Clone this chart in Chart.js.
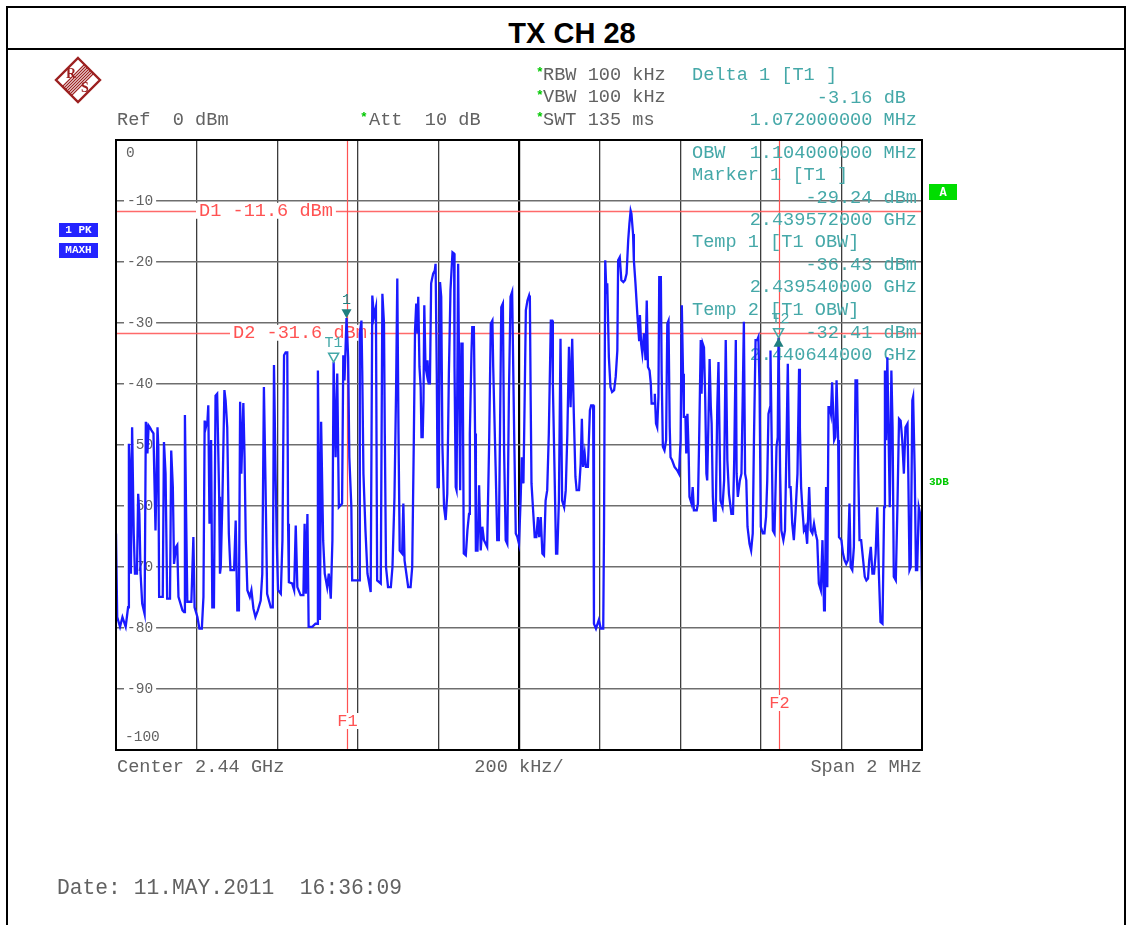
<!DOCTYPE html>
<html>
<head>
<meta charset="utf-8">
<title>TX CH 28</title>
<script src="https://cdn.jsdelivr.net/npm/chart.js@4.4.1/dist/chart.umd.min.js"></script>
<style>
    html, body { margin: 0; padding: 0; background: #fff; }
    body { width: 1131px; height: 925px; overflow: hidden; position: relative; }
    #frame { position: absolute; left: 6px; top: 6px; width: 1116px; height: 940px; border: 2px solid #000; }
    #title { height: 40px; border-bottom: 2px solid #000; text-align: center; font: bold 29px "Liberation Sans", Arial, sans-serif; line-height: 50px; padding-left: 12px; }
    #chartArea { position: absolute; left: 0; top: 0; }
</style>
</head>
<body>
<div id="frame"><div id="title">TX CH 28</div></div>
<canvas id="chartArea" width="1131" height="925"></canvas>
<script>
// trace: [offset from start frequency in kHz, level in dBm]
var lowerBandPts = [[0,-64.5],[3,-78.2],[10,-79.8],[16,-78.2],[24,-79.8],[30,-76.6],[32,-49.8],[35,-54.7],[37,-71.1],[40,-47.1],[44,-64.5],[47,-71.1],[52,-71.1],[55,-58.0],[58,-61.3],[61,-71.1],[65,-76.0],[71,-77.7],[74,-46.2],[76,-47.1],[78,-51.4],[81,-46.8],[84,-47.1],[88,-47.6],[93,-48.1],[95,-54.7],[98,-64.0],[103,-47.1],[105,-50.3],[107,-74.9],[116,-74.9],[119,-49.5],[123,-54.7],[127,-75.2],[134,-75.2],[137,-50.9],[141,-56.9],[144,-69.5],[149,-66.7],[152,-66.4],[155,-74.9],[165,-77.1],[169,-77.4],[171,-45.1],[174,-61.3],[177,-75.7],[187,-75.7],[192,-65.1],[195,-76.6],[202,-78.2],[207,-80.1],[213,-80.1],[217,-74.9],[220,-46.0],[223,-47.1],[227,-46.0],[229,-43.5],[232,-62.9],[236,-49.2],[239,-76.6],[243,-76.6],[247,-41.9],[251,-41.6],[256,-58.5],[258,-71.1],[260,-70.0],[264,-59.1],[269,-41.0],[272,-42.7],[276,-47.1],[280,-64.5],[284,-70.5],[293,-70.5],[297,-62.4],[301,-77.1],[305,-77.1],[308,-42.9],[311,-54.7],[316,-43.1],[319,-52.0],[322,-65.6],[326,-73.8],[332,-74.9],[336,-73.8],[341,-76.8],[346,-78.2],[352,-77.1],[359,-75.5],[363,-71.1],[367,-40.5],[371,-56.3],[375,-74.4],[384,-76.6],[389,-76.6],[392,-36.9],[396,-54.7],[399,-66.2],[402,-73.8],[409,-74.4],[413,-65.6],[417,-35.3],[421,-34.8],[425,-34.8],[427,-62.9],[429,-72.5],[437,-72.7],[442,-73.8],[446,-63.2],[450,-73.3],[458,-74.6],[465,-74.6],[468,-62.9],[471,-74.4],[475,-61.3],[478,-79.8],[487,-79.8],[495,-79.3],[499,-79.3],[501,-37.8],[504,-60.2],[506,-78.7],[509,-46.2],[514,-65.6],[518,-71.1],[524,-73.3],[528,-71.1],[533,-75.2],[537,-65.6],[540,-36.4],[545,-52.0],[549,-38.3],[553,-60.2],[561,-59.6],[564,-35.3],[567,-39.4],[572,-29.2],[576,-35.6],[579,-52.0],[584,-60.2],[586,-72.2],[603,-72.2],[605,-31.7],[609,-29.6],[611,-37.8],[614,-54.7],[619,-64.0],[624,-71.1],[632,-74.1],[636,-25.5],[640,-29.0],[645,-27.4],[648,-72.2],[657,-72.7],[661,-25.2],[665,-30.1]];
var centerPts = [[667,-48.1],[670,-70.0],[675,-73.3],[682,-73.3],[686,-70.0],[691,-58.5],[695,-41.0],[698,-22.7],[701,-48.1],[704,-67.3],[710,-67.8],[713,-59.6],[716,-68.9],[725,-73.3],[731,-73.3],[735,-70.0],[739,-49.2],[742,-31.2],[745,-26.8],[748,-31.7],[750,-25.7],[753,-37.2],[756,-40.5],[758,-48.7],[761,-48.7],[763,-42.7],[765,-27.1],[768,-37.2],[771,-38.3],[773,-36.1],[776,-39.9],[779,-39.9],[782,-23.5],[787,-21.9],[791,-21.4],[793,-20.3],[796,-38.3],[798,-56.9],[801,-56.9],[804,-23.3],[807,-25.7],[810,-50.3],[814,-60.2],[818,-62.3],[822,-58.0],[826,-38.3],[830,-24.6],[835,-18.4],[839,-18.6],[840,-37.2],[843,-56.9],[845,-57.4],[849,-20.3],[852,-42.7],[854,-57.4],[857,-33.4],[860,-33.4],[863,-67.8],[868,-68.1],[872,-64.0],[876,-61.3],[878,-48.1],[882,-35.0],[884,-30.7],[888,-30.7],[891,-48.1],[893,-67.3],[897,-67.3],[901,-56.6],[905,-67.3],[909,-63.4],[913,-65.6],[921,-66.7],[926,-49.2],[930,-30.1],[934,-29.6],[936,-37.2],[942,-53.6],[946,-65.6],[950,-65.6],[953,-47.0],[956,-27.4],[960,-26.8],[963,-50.9],[967,-65.6],[971,-66.2],[975,-41.6],[979,-25.7],[983,-24.9],[985,-24.9],[988,-48.1],[992,-64.5],[996,-65.1],[1000,-66.2],[1004,-59.1],[1007,-52.0],[1011,-56.3],[1014,-42.7],[1017,-27.9],[1021,-26.3],[1025,-25.5],[1027,-26.3],[1029,-42.7],[1031,-56.3],[1036,-61.8],[1039,-65.1],[1043,-65.1],[1047,-61.8],[1050,-65.1],[1054,-61.8],[1058,-67.8],[1062,-68.1],[1066,-59.1],[1070,-57.4],[1074,-48.1],[1079,-29.6],[1082,-29.6],[1084,-39.9],[1088,-53.6],[1092,-67.8],[1095,-67.8],[1099,-59.1],[1103,-32.6],[1107,-59.1],[1112,-60.2],[1116,-57.4],[1120,-48.1],[1124,-33.9],[1128,-43.8],[1132,-32.6],[1136,-44.9],[1140,-55.2],[1143,-57.4],[1149,-57.4],[1153,-53.1],[1156,-45.7],[1159,-53.6],[1163,-51.4],[1166,-53.6],[1171,-53.6],[1176,-44.3],[1179,-43.5],[1184,-43.5],[1186,-79.3],[1191,-80.1],[1195,-79.3],[1198,-78.7],[1203,-80.1],[1209,-80.1],[1211,-63.4],[1214,-19.7],[1217,-25.2],[1219,-23.5],[1223,-35.6],[1227,-40.5],[1231,-41.3],[1236,-41.0],[1240,-38.8],[1244,-34.5],[1246,-19.7],[1250,-19.2],[1254,-23.0],[1259,-23.3],[1263,-23.0],[1267,-21.9],[1271,-16.4],[1274,-13.7],[1277,-11.6],[1279,-12.1],[1283,-15.4],[1285,-19.7],[1289,-23.5],[1294,-29.0],[1298,-32.8],[1300,-28.7],[1303,-33.4],[1306,-35.0],[1310,-31.7],[1314,-36.1],[1317,-26.3],[1320,-37.2],[1324,-37.8],[1327,-39.9],[1329,-43.2],[1335,-43.2]];
var upperBandPts = [[1337,-41.6],[1340,-46.5],[1343,-47.1],[1346,-42.1],[1348,-22.5],[1352,-22.5],[1354,-38.3],[1357,-50.3],[1361,-50.9],[1365,-49.2],[1368,-30.1],[1371,-29.6],[1374,-47.1],[1376,-52.0],[1380,-52.5],[1386,-53.6],[1393,-54.2],[1397,-54.7],[1401,-49.2],[1404,-27.1],[1407,-38.3],[1409,-45.4],[1413,-45.4],[1415,-51.4],[1418,-44.9],[1421,-51.4],[1423,-58.5],[1428,-59.6],[1431,-56.9],[1434,-60.7],[1441,-60.7],[1444,-59.6],[1447,-49.2],[1451,-32.8],[1453,-41.6],[1456,-33.4],[1459,-34.0],[1462,-42.1],[1465,-54.7],[1467,-55.8],[1470,-46.5],[1473,-35.9],[1476,-43.8],[1478,-46.5],[1481,-58.5],[1484,-62.4],[1488,-62.4],[1492,-43.8],[1495,-36.4],[1498,-50.3],[1500,-59.1],[1505,-60.2],[1509,-55.8],[1513,-32.8],[1517,-52.5],[1521,-58.0],[1527,-61.3],[1531,-61.3],[1534,-52.5],[1538,-32.8],[1540,-54.7],[1543,-58.5],[1548,-55.8],[1552,-54.7],[1555,-42.7],[1558,-29.8],[1561,-54.7],[1564,-55.8],[1567,-63.4],[1572,-66.2],[1576,-67.3],[1580,-64.5],[1583,-49.2],[1587,-32.8],[1591,-32.8],[1594,-32.3],[1597,-41.0],[1600,-63.4],[1605,-64.5],[1609,-64.5],[1613,-61.8],[1616,-55.8],[1619,-44.9],[1623,-43.8],[1624,-34.5],[1627,-49.2],[1630,-64.0],[1634,-64.5],[1639,-50.3],[1642,-48.7],[1644,-32.4],[1648,-54.7],[1651,-64.0],[1656,-65.6],[1660,-64.0],[1664,-49.2],[1667,-36.7],[1671,-56.9],[1674,-56.9],[1678,-62.9],[1682,-65.6],[1686,-61.3],[1691,-54.7],[1695,-37.5],[1697,-47.1],[1700,-56.9],[1703,-60.2],[1707,-64.0],[1711,-63.4],[1715,-66.2],[1720,-56.9],[1724,-64.0],[1728,-64.5],[1732,-62.9],[1736,-64.5],[1740,-65.6],[1744,-72.7],[1749,-73.8],[1753,-65.6],[1757,-77.1],[1759,-76.6],[1762,-56.9],[1765,-73.3],[1768,-43.8],[1771,-43.8],[1774,-44.9],[1777,-39.7],[1782,-49.2],[1785,-48.7],[1788,-39.4],[1792,-49.2],[1794,-65.1],[1800,-65.6],[1804,-67.8],[1808,-68.9],[1812,-69.5],[1816,-68.9],[1820,-59.6],[1823,-70.0],[1827,-70.5],[1831,-66.7],[1835,-39.4],[1839,-39.4],[1842,-54.7],[1845,-65.6],[1849,-65.6],[1854,-68.9],[1858,-71.6],[1862,-72.2],[1866,-71.9],[1869,-68.9],[1873,-66.7],[1877,-71.1],[1881,-71.1],[1885,-67.8],[1889,-60.2],[1893,-71.1],[1897,-79.0],[1902,-79.3],[1906,-60.2],[1908,-37.8],[1911,-49.2],[1914,-35.6],[1918,-52.0],[1920,-60.2],[1924,-37.8],[1927,-47.1],[1930,-71.6],[1935,-72.2],[1939,-60.2],[1943,-45.7],[1947,-46.0],[1951,-49.2],[1955,-54.7],[1959,-47.1],[1964,-46.5],[1966,-54.7],[1969,-70.5],[1972,-70.0],[1976,-42.7],[1978,-42.1],[1982,-54.7],[1985,-70.5],[1988,-70.5],[1992,-60.2],[1997,-61.8],[2000,-73.8]];

var centerGHz = 2.44;
var spanKHz = 2000;
var divKHz = 200;
var refLevel = 0;
var bottomLevel = -100;
var dbPerDiv = 10;
var levelTicks = [-10, -20, -30, -40, -50, -60, -70, -80, -90];

var displayLineNames = ['D1', 'D2'];
var displayLineLevels = [-11.6, -31.6];
var freqLineNames = ['F1', 'F2'];
var freqLineGHz = [2.439572, 2.440644];
var markerNames = ['1', 'T1', 'T2'];
var markerTitles = ['Marker 1 [T1 ]', 'Temp 1 [T1 OBW]', 'Temp 2 [T1 OBW]'];
var markerGHz = [2.439572, 2.439540, 2.440644];
var markerLevels = [-29.24, -36.43, -32.41];
var deltaTexts = ['Delta 1 [T1 ]', '-3.16 dB', '1.072000000 MHz'];
var obwText = '1.104000000 MHz';
var setupTexts = ['RBW 100 kHz', 'VBW 100 kHz', 'SWT 135 ms'];

var MONO = '"Liberation Mono", "DejaVu Sans Mono", monospace';
var F_MAIN = '18.6px ' + MONO;
var GRAY = '#626262';
var TEAL = '#45a8a8';
var DTEAL = '#1f7f7f';
var RED = '#ff5252';
var GREEN = '#00c800';

function toKHz(ghz) {
    return (ghz - centerGHz) * 1e6 + spanKHz / 2;
}

function put(c, s, x, y, color, font, align) {
    c.font = font;
    c.fillStyle = color;
    c.textAlign = align || 'left';
    c.textBaseline = 'middle';
    c.fillText(s, x, y);
}

function boxedText(c, s, x, y, color, font, align) {
    c.font = font;
    var w = c.measureText(s).width;
    var x0 = align === 'center' ? x - w / 2 : x;
    c.fillStyle = '#fff';
    c.fillRect(x0 - 3, y - 8, w + 6, 16);
    put(c, s, x0, y, color, font, 'left');
}

function tri(c, x, y, dir, filled, color) {
    // dir 1 = pointing down with its tip at y, dir -1 = pointing up
    c.beginPath();
    c.moveTo(x, y);
    c.lineTo(x - 5, y - 9 * dir);
    c.lineTo(x + 5, y - 9 * dir);
    c.closePath();
    if (filled) {
        c.fillStyle = color;
        c.fill();
    } else {
        c.strokeStyle = color;
        c.lineWidth = 1.5;
        c.stroke();
    }
}

function star(c, x, y) {
    put(c, '*', x, y - 2, GREEN, 'bold 13px ' + MONO);
}

function drawLogo(c, cx, cy, r) {
    c.save();
    c.translate(cx, cy);
    c.strokeStyle = '#9c2020';
    c.lineWidth = 2.4;
    c.beginPath();
    c.moveTo(0, -r); c.lineTo(r, 0); c.lineTo(0, r); c.lineTo(-r, 0);
    c.closePath();
    c.stroke();
    c.lineWidth = 1.1;
    for (var k = -3; k <= 3; k++) {
        var o = k * 1.5;
        c.beginPath();
        c.moveTo(o + r / 2, o - r / 2);
        c.lineTo(o - r / 2, o + r / 2);
        c.stroke();
    }
    put(c, 'R', -7, -6, '#9c2020', 'bold 14px "Liberation Serif", serif', 'center');
    put(c, 'S', 7, 8, '#9c2020', 'bold 14px "Liberation Serif", serif', 'center');
    c.restore();
}

var spectrumDecor = {
    id: 'spectrumDecor',
    beforeDatasetsDraw: function (chart) {
        var c = chart.ctx, a = chart.chartArea, xs = chart.scales.x, ys = chart.scales.y;
        var i, y, x;
        c.save();
        // level labels sit on the grid lines
        var F_LVL = '14.5px ' + MONO;
        put(c, String(refLevel), a.left + 10, a.top + 13, GRAY, F_LVL);
        for (i = 0; i < levelTicks.length; i++) {
            boxedText(c, String(levelTicks[i]), a.left + 11, ys.getPixelForValue(levelTicks[i]), GRAY, F_LVL);
        }
        put(c, String(bottomLevel), a.left + 9, a.bottom - 13, GRAY, F_LVL);

        // display lines D1 / D2
        c.strokeStyle = 'rgba(255,90,90,0.9)';
        c.lineWidth = 1.6;
        for (i = 0; i < displayLineLevels.length; i++) {
            y = Math.round(ys.getPixelForValue(displayLineLevels[i])) + 0.5;
            c.beginPath(); c.moveTo(a.left, y); c.lineTo(a.right, y); c.stroke();
        }
        boxedText(c, displayLineNames[0] + ' ' + displayLineLevels[0].toFixed(1) + ' dBm', a.left + 83,
            ys.getPixelForValue(displayLineLevels[0]), RED, F_MAIN);
        boxedText(c, displayLineNames[1] + ' ' + displayLineLevels[1].toFixed(1) + ' dBm', a.left + 117,
            ys.getPixelForValue(displayLineLevels[1]), RED, F_MAIN);

        // frequency lines F1 / F2
        c.strokeStyle = RED;
        c.lineWidth = 1.2;
        var fLabelY = [a.bottom - 29, a.bottom - 47];
        for (i = 0; i < freqLineGHz.length; i++) {
            x = Math.round(xs.getPixelForValue(toKHz(freqLineGHz[i]))) + 0.5;
            c.beginPath(); c.moveTo(x, a.top); c.lineTo(x, a.bottom); c.stroke();
            boxedText(c, freqLineNames[i], x, fLabelY[i], RED, '17px ' + MONO, 'center');
        }

        // marker readout inside the screen
        var rx = a.right - 5, lx = a.left + 576;
        put(c, 'OBW', lx, a.top + 13, TEAL, F_MAIN);
        put(c, obwText, rx, a.top + 13, TEAL, F_MAIN, 'right');
        for (i = 0; i < markerTitles.length; i++) {
            var top = a.top + 35 + i * 67.5;
            put(c, markerTitles[i], lx, top, TEAL, F_MAIN);
            put(c, markerLevels[i].toFixed(2) + ' dBm', rx, top + 23, TEAL, F_MAIN, 'right');
            put(c, markerGHz[i].toFixed(9) + ' GHz', rx, top + 45, TEAL, F_MAIN, 'right');
        }
        c.restore();
    },
    afterDatasetsDraw: function (chart) {
        var c = chart.ctx, a = chart.chartArea, xs = chart.scales.x, ys = chart.scales.y;
        c.save();
        var px = [], py = [];
        for (var i = 0; i < markerGHz.length; i++) {
            px.push(xs.getPixelForValue(toKHz(markerGHz[i])));
            py.push(ys.getPixelForValue(markerLevels[i]));
        }
        var F_MK = '15px ' + MONO;
        tri(c, px[0], py[0], 1, true, DTEAL);
        put(c, markerNames[0], px[0], py[0] - 18, DTEAL, F_MK, 'center');
        tri(c, px[1], py[1], 1, false, TEAL);
        put(c, markerNames[1], px[1], py[1] - 19, TEAL, F_MK, 'center');
        tri(c, px[2], py[2], 1, false, TEAL);
        tri(c, px[2], py[2], -1, true, DTEAL);
        put(c, markerNames[2], px[2] + 2, py[2] - 19, TEAL, F_MK, 'center');

        c.strokeStyle = '#000';
        c.lineWidth = 2;
        c.strokeRect(a.left, a.top, a.right - a.left, a.bottom - a.top);
        c.restore();
    },
    afterDraw: function (chart) {
        var c = chart.ctx, a = chart.chartArea;
        c.save();
        drawLogo(c, 78, 80, 22);

        put(c, 'Ref  ' + refLevel + ' dBm', a.left + 1, 120, GRAY, F_MAIN);
        star(c, 360, 120);
        put(c, 'Att  10 dB', 369, 120, GRAY, F_MAIN);
        for (var i = 0; i < setupTexts.length; i++) {
            star(c, 536, 75 + i * 22.5);
            put(c, setupTexts[i], 543, 75 + i * 22.5, GRAY, F_MAIN);
        }
        put(c, deltaTexts[0], 692, 75, TEAL, F_MAIN);
        put(c, deltaTexts[1], 906, 98, TEAL, F_MAIN, 'right');
        put(c, deltaTexts[2], 917, 120, TEAL, F_MAIN, 'right');

        // trace info boxes
        c.fillStyle = '#2424ff';
        c.fillRect(59, 223, 39, 14);
        c.fillRect(59, 243, 39, 15);
        put(c, '1 PK', 78.5, 230, '#fff', 'bold 11px ' + MONO, 'center');
        put(c, 'MAXH', 78.5, 250.5, '#fff', 'bold 11px ' + MONO, 'center');
        c.fillStyle = '#00dd00';
        c.fillRect(929, 184, 28, 16);
        put(c, 'A', 943, 192.5, '#fff', 'bold 12px ' + MONO, 'center');
        put(c, '3DB', 929, 482, GREEN, 'bold 11px ' + MONO);

        put(c, 'Center ' + centerGHz + ' GHz', a.left + 1, 767, GRAY, F_MAIN);
        put(c, divKHz + ' kHz/', (a.left + a.right) / 2, 767, GRAY, F_MAIN, 'center');
        put(c, 'Span ' + spanKHz / 1000 + ' MHz', a.right, 767, GRAY, F_MAIN, 'right');
        put(c, 'Date: 11.MAY.2011  16:36:09', 57, 888, GRAY, '21.3px ' + MONO);
        c.restore();
    }
};

var tracePts = lowerBandPts.concat(centerPts, upperBandPts);
var ctx = document.getElementById('chartArea').getContext('2d');
var spectrumChart = new Chart(ctx, {
    type: 'scatter',
    data: {
        datasets: [{
            data: tracePts.map(function (p) { return { x: p[0], y: p[1] }; }),
            showLine: true,
            borderColor: '#1a1aff',
            borderWidth: 2.3,
            pointRadius: 0,
            tension: 0
        }]
    },
    options: {
        responsive: false,
        animation: false,
        events: [],
        layout: { padding: { left: 116, top: 140, right: 209, bottom: 175 } },
        plugins: { legend: { display: false }, tooltip: { enabled: false } },
        scales: {
            x: {
                type: 'linear', min: 0, max: spanKHz,
                ticks: { display: false, stepSize: divKHz },
                border: { display: false },
                grid: {
                    drawTicks: false,
                    color: function (g) { return g.tick && g.tick.value === spanKHz / 2 ? '#000' : '#3c3c3c'; },
                    lineWidth: function (g) { return g.tick && g.tick.value === spanKHz / 2 ? 2.2 : 1.3; }
                }
            },
            y: {
                min: bottomLevel, max: refLevel,
                ticks: { display: false, stepSize: dbPerDiv },
                border: { display: false },
                grid: { drawTicks: false, color: '#6e6e6e', lineWidth: 1.6 }
            }
        }
    },
    plugins: [spectrumDecor]
});
</script>
</body>
</html>
